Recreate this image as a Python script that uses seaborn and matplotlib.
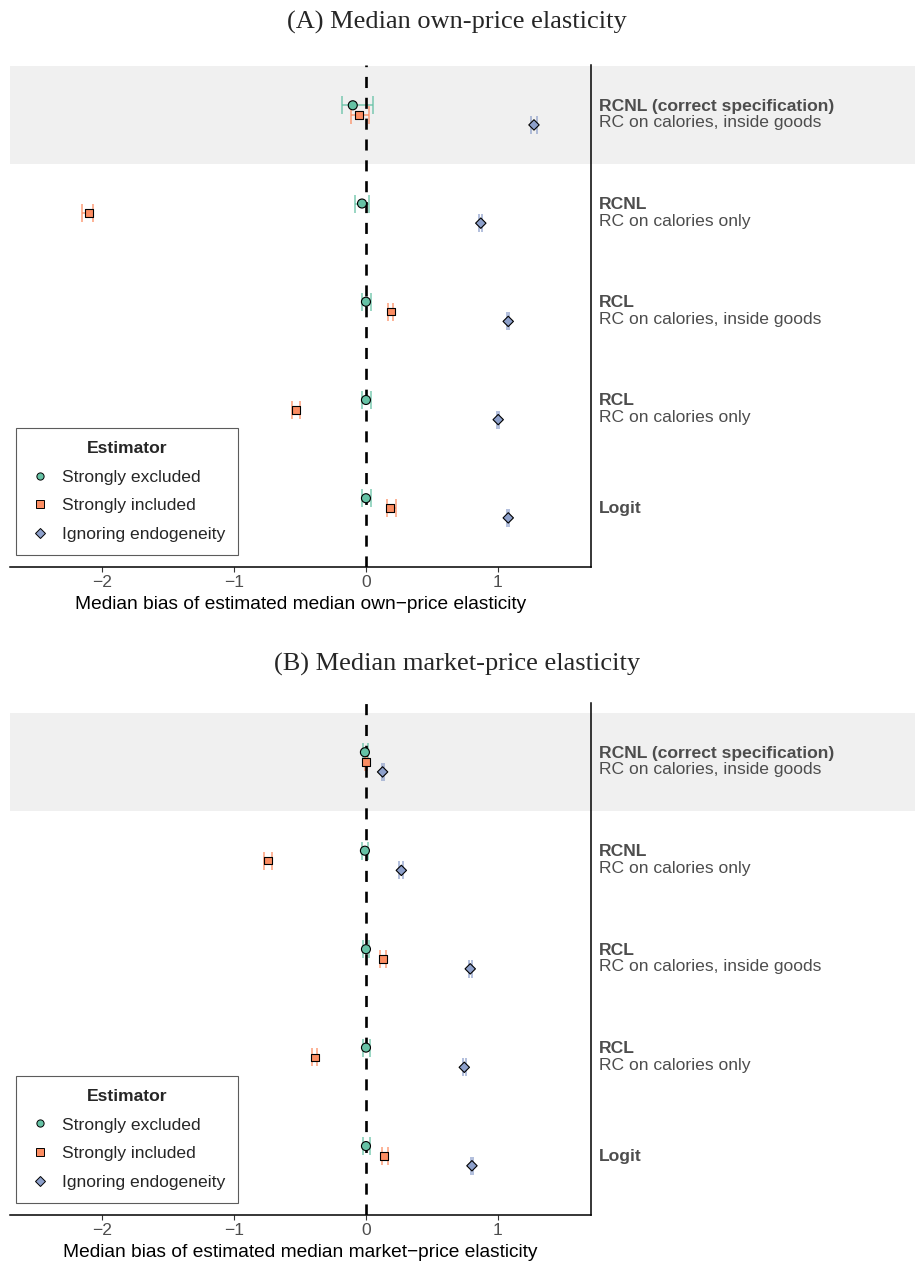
import numpy as np
import pandas as pd
import matplotlib
matplotlib.use("Agg")
import matplotlib.pyplot as plt
import matplotlib.transforms as mtransforms
from matplotlib.lines import Line2D
import seaborn as sns

# rows, top to bottom
row_bold = ["RCNL (correct specification)", "RCNL", "RCL", "RCL", "Logit"]
row_sub = ["RC on calories, inside goods", "RC on calories only",
           "RC on calories, inside goods", "RC on calories only", ""]
estimators = ["Strongly excluded", "Strongly included", "Ignoring endogeneity"]

# (A) own-price elasticity: median bias and interval, per estimator
own_excl = [-0.10, -0.03, 0.00, 0.00, 0.00]
own_excl_lo = [-0.185, -0.086, -0.03, -0.03, -0.03]
own_excl_hi = [0.055, 0.02, 0.04, 0.038, 0.04]
own_incl = [-0.05, -2.10, 0.187, -0.53, 0.18]
own_incl_lo = [-0.114, -2.15, 0.167, -0.56, 0.16]
own_incl_hi = [0.023, -2.07, 0.207, -0.50, 0.225]
own_ign = [1.273, 0.87, 1.078, 1.002, 1.078]
own_ign_lo = [1.25, 0.86, 1.07, 0.994, 1.07]
own_ign_hi = [1.295, 0.88, 1.086, 1.01, 1.086]

# (B) market-price elasticity
mkt_excl = [-0.008, -0.008, 0.00, 0.00, 0.00]
mkt_excl_lo = [-0.02, -0.028, -0.025, -0.025, -0.025]
mkt_excl_hi = [0.013, 0.018, 0.025, 0.03, 0.03]
mkt_incl = [0.00, -0.74, 0.13, -0.386, 0.139]
mkt_incl_lo = [-0.005, -0.77, 0.105, -0.41, 0.119]
mkt_incl_hi = [0.005, -0.71, 0.155, -0.37, 0.164]
mkt_ign = [0.126, 0.268, 0.79, 0.745, 0.803]
mkt_ign_lo = [0.118, 0.252, 0.78, 0.735, 0.793]
mkt_ign_hi = [0.134, 0.283, 0.80, 0.755, 0.813]

xticks = [-2, -1, 0, 1]
xtick_labels = ["\u22122", "\u22121", "0", "1"]

sns.set_theme(style="white")
plt.rcParams['font.family'] = ['Liberation Sans', 'DejaVu Sans']
plt.rcParams['axes.unicode_minus'] = True

pal = sns.color_palette("Set2", 3)
colors = dict(zip(estimators, pal))
markers = dict(zip(estimators, ["o", "s", "D"]))
msizes = dict(zip(estimators, [42, 31, 28]))
dodge = dict(zip(estimators, [0.1, 0.0, -0.1]))
FS = 12.6
GREY = "#4D4D4D"


def make_df(ex, exl, exh, inc, incl, inch, ig, igl, igh):
    parts = []
    for name, e, l, h in [(estimators[0], ex, exl, exh),
                          (estimators[1], inc, incl, inch),
                          (estimators[2], ig, igl, igh)]:
        d = pd.DataFrame({"est": e, "lo": l, "hi": h})
        d["row"] = np.arange(5, 0, -1)
        d["estimator"] = name
        d["y"] = d["row"] + dodge[name]
        parts.append(d)
    return pd.concat(parts, ignore_index=True)


def draw_panel(ax, df, xlabel, ytop):
    ax.set_xlim(-2.697, 1.705)
    ax.set_ylim(0.4, ytop)
    # shaded row for the correct specification
    band = ax.axhspan(4.5, 5.5, xmin=0, xmax=905 / 581, color="#F0F0F0",
                      lw=0, zorder=0)
    band.set_clip_on(False)
    ax.axvline(0, color="black", lw=1.9, ls=(0, (4.2, 3.7)), zorder=2.5)
    for name in estimators:
        d = df[df["estimator"] == name]
        ax.errorbar(d["est"], d["y"], xerr=[d["est"] - d["lo"], d["hi"] - d["est"]],
                    fmt="none", ecolor=colors[name], alpha=0.85, elinewidth=1.1,
                    capsize=6.8, capthick=1.1, zorder=2)
    sns.scatterplot(data=df, x="est", y="y", hue="estimator", style="estimator",
                    size="estimator", sizes=msizes, markers=markers, palette=colors,
                    edgecolor="black", linewidth=0.8, legend=False, ax=ax, zorder=3)
    ax.set_yticks([])
    ax.set_ylabel("")
    ax.set_xticks(xticks)
    ax.set_xticklabels(xtick_labels)
    ax.tick_params(axis="x", bottom=True, length=3.5, width=0.8, color="#333333",
                   labelsize=FS, labelcolor=GREY, pad=2)
    ax.set_xlabel(xlabel, fontsize=13.8, color="black", labelpad=4.5)
    for s in ["left", "top"]:
        ax.spines[s].set_visible(False)
    for s in ["right", "bottom"]:
        ax.spines[s].set_color("black")
        ax.spines[s].set_linewidth(1.1)
    ax.patch.set_alpha(0)

    trans = mtransforms.blended_transform_factory(ax.transAxes, ax.transData)
    xt = 1 + 8 / 581
    for i, (b, sub) in enumerate(zip(row_bold, row_sub)):
        r = 5 - i
        if sub:
            ax.text(xt, r + 0.044, b, transform=trans, fontsize=FS, fontweight="bold",
                    color=GREY, va="baseline", ha="left", clip_on=False)
            ax.text(xt, r - 0.125, sub, transform=trans, fontsize=FS,
                    color=GREY, va="baseline", ha="left", clip_on=False)
        else:
            ax.text(xt, r - 0.048, b, transform=trans, fontsize=FS, fontweight="bold",
                    color=GREY, va="baseline", ha="left", clip_on=False)

    handles = [Line2D([], [], ls="none", marker=markers[n], markerfacecolor=colors[n],
                      markeredgecolor="black", markeredgewidth=0.7,
                      markersize=5.2 if n != estimators[2] else 4.6)
               for n in estimators]
    leg = ax.legend(handles, estimators, title="Estimator", loc="lower left",
                    bbox_to_anchor=(6 / 581, 12 / 502), borderaxespad=0,
                    fontsize=FS, title_fontsize=FS, frameon=True, fancybox=False,
                    edgecolor="#333333", borderpad=0.75, handlelength=1.25,
                    handletextpad=0.6, labelspacing=0.76)
    leg.get_title().set_fontweight("bold")
    leg.get_frame().set_linewidth(0.8)
    leg.get_frame().set_facecolor("white")
    leg.set_zorder(5)


W, H = 915, 1264
fig = plt.figure(figsize=(W / 100, H / 100), dpi=100)
axA = fig.add_axes([10 / W, 1 - 567 / H, 581 / W, (567 - 65) / H])
axB = fig.add_axes([10 / W, 1 - 1215 / H, 581 / W, (1215 - 703) / H])

dfA = make_df(own_excl, own_excl_lo, own_excl_hi, own_incl, own_incl_lo, own_incl_hi,
              own_ign, own_ign_lo, own_ign_hi)
dfB = make_df(mkt_excl, mkt_excl_lo, mkt_excl_hi, mkt_incl, mkt_incl_lo, mkt_incl_hi,
              mkt_ign, mkt_ign_lo, mkt_ign_hi)

draw_panel(axA, dfA, "Median bias of estimated median own\u2212price elasticity", 5.51)
draw_panel(axB, dfB, "Median bias of estimated median market\u2212price elasticity", 5.6)

fig.text(457 / W, 1 - 22 / H, "(A) Median own-price elasticity", ha="center",
         va="center", fontsize=19, family=["Liberation Serif", "DejaVu Serif"])
fig.text(457 / W, 1 - 664 / H, "(B) Median market-price elasticity", ha="center",
         va="center", fontsize=19, family=["Liberation Serif", "DejaVu Serif"])

fig.savefig("out.png", dpi=100)
